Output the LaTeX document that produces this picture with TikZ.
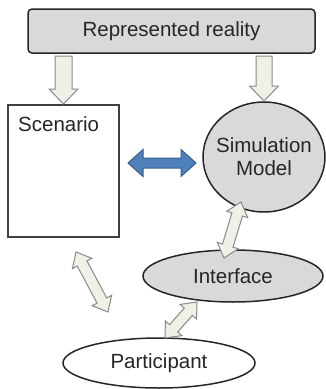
\documentclass[tikz,border=0pt]{standalone}
\usepackage{fontspec}
\setmainfont{Liberation Sans}
\usetikzlibrary{calc,shapes.geometric}

\definecolor{boxgray}{HTML}{D9D9D9}
\definecolor{inkgray}{HTML}{262626}
\definecolor{arrowfill}{HTML}{F0F0E6}
\definecolor{arrowline}{HTML}{8A8A8A}
\definecolor{bluefill}{HTML}{4F81BD}
\definecolor{blueline}{HTML}{3A5F8C}

% block arrow from #2 (tail) to #3 (tip): #4 shaft half width, #5 head half width, #6 head length
\newcommand\oneway[6]{%
  \draw[#1] ($(#2)!#4!90:(#3)$) -- ($(#3)!#6!(#2)!#4!-90:(#2)$)
    -- ($(#3)!#6!(#2)!#5!-90:(#2)$) -- (#3)
    -- ($(#3)!#6!(#2)!#5!90:(#2)$) -- ($(#3)!#6!(#2)!#4!90:(#2)$)
    -- ($(#2)!#4!-90:(#3)$) -- cycle;}

% block arrow with heads at both #2 and #3
\newcommand\twoway[6]{%
  \draw[#1] (#2) -- ($(#2)!#6!(#3)!#5!90:(#3)$) -- ($(#2)!#6!(#3)!#4!90:(#3)$)
    -- ($(#3)!#6!(#2)!#4!-90:(#2)$) -- ($(#3)!#6!(#2)!#5!-90:(#2)$) -- (#3)
    -- ($(#3)!#6!(#2)!#5!90:(#2)$) -- ($(#3)!#6!(#2)!#4!90:(#2)$)
    -- ($(#2)!#6!(#3)!#4!-90:(#3)$) -- ($(#2)!#6!(#3)!#5!-90:(#3)$) -- cycle;}

\tikzset{
  txt/.style={text=inkgray, font=\fontsize{20.5}{23}\selectfont, inner sep=0pt},
  topbox/.style={draw=inkgray, line width=1.5pt, fill=boxgray, rounded corners=4pt,
    inner sep=0pt, outer sep=0pt},
  scenbox/.style={draw=black!75, line width=1.6pt, fill=white, inner sep=0pt, outer sep=0pt},
  ellip/.style={ellipse, draw=inkgray, line width=1.5pt, inner sep=0pt, outer sep=0pt},
  lightarrow/.style={draw=arrowline, fill=arrowfill, line width=1pt, line join=miter},
  bluearrow/.style={draw=blueline, fill=bluefill, line width=1pt, line join=miter},
}

\begin{document}
\begin{tikzpicture}[x=1pt, y=-1pt]
  \fill[white] (0,0) rectangle (326,389);
  \useasboundingbox (0,0) rectangle (326,389);

  % boxes and ellipses
  \node[topbox, minimum width=287pt, minimum height=44pt] (reality) at (171.5,31)
    {\fontsize{20.5}{23}\selectfont\color{inkgray}Represented reality};
  \node[scenbox, minimum width=111pt, minimum height=132pt] (scen) at (63.5,171) {};
  \node[txt, anchor=base west] (scenlbl) at (18,131) {Scenario};

  \node[ellip, fill=boxgray, minimum width=122pt, minimum height=110pt] (sim) at (264,157) {};
  \node[txt, align=center] (simlbl) at (sim.center) {Simulation\\Model};

  \node[ellip, fill=boxgray, minimum width=180pt, minimum height=52pt] (iface) at (233,276) {};
  \node[txt] (ifacelbl) at (iface.center) {Interface};

  \node[ellip, fill=white, minimum width=192pt, minimum height=50pt] (part) at (159,363) {};
  \node[txt] (partlbl) at (part.center) {Participant};

  % arrow end points
  \coordinate (d1a) at ([yshift=-3pt]reality.south -| scen.north);
  \coordinate (d1b) at ([yshift=1pt]scen.north);
  \coordinate (d2a) at ([yshift=-3pt]reality.south -| sim.north);
  \coordinate (d2b) at ([yshift=1pt]sim.north);
  \coordinate (b1) at (128,163);
  \coordinate (b2) at (196,163);
  \coordinate (si1) at (224,258);
  \coordinate (si2) at (241,202);
  \coordinate (sp1) at (76,252);
  \coordinate (sp2) at (108,312);
  \coordinate (ip1) at (165,338);
  \coordinate (ip2) at (197,302);

  % arrows
  \oneway{lightarrow}{d1a}{d1b}{8.5pt}{14.5pt}{15pt}
  \oneway{lightarrow}{d2a}{d2b}{8pt}{14.5pt}{15pt}
  \twoway{bluearrow}{b1}{b2}{5pt}{13.5pt}{15pt}
  \twoway{lightarrow}{si1}{si2}{5.5pt}{11pt}{13pt}
  \twoway{lightarrow}{sp1}{sp2}{5.5pt}{11pt}{13pt}
  \twoway{lightarrow}{ip1}{ip2}{5.5pt}{11pt}{13pt}
\end{tikzpicture}
\end{document}
